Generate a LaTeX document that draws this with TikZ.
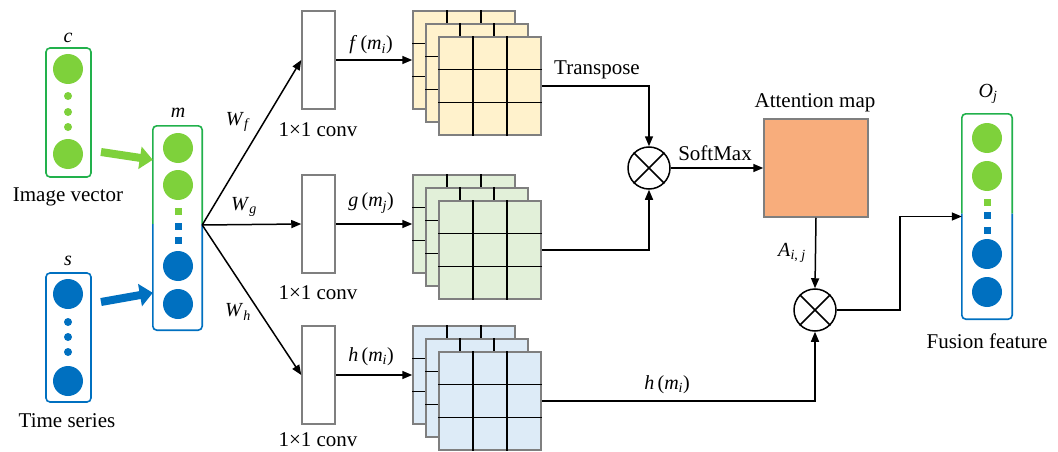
\documentclass[tikz,border=0pt]{standalone}
\usepackage{fontspec}
\setmainfont{Liberation Serif}
\usetikzlibrary{arrows.meta,positioning,calc}
\definecolor{vgreen}{HTML}{22B14C}
\definecolor{lgreen}{HTML}{7ED13B}
\definecolor{vblue}{HTML}{0070C0}
\definecolor{fmyellow}{HTML}{FFF2CC}
\definecolor{fmgreen}{HTML}{E2F0D9}
\definecolor{fmblue}{HTML}{DDEBF7}
\definecolor{attn}{HTML}{F8AD7C}
\definecolor{edge}{HTML}{7F7F7F}
\tikzset{vecbox/.style={draw,rounded corners=4pt,line width=1.6pt,minimum width=45pt,minimum height=129pt,inner sep=0pt},
big/.style={circle,inner sep=0pt,minimum size=30pt},
tiny/.style={circle,inner sep=0pt,minimum size=8pt},
sq/.style={rectangle,inner sep=0pt,minimum size=7pt},
conv/.style={draw=edge,line width=1.5pt,minimum width=33pt,minimum height=98pt,inner sep=0pt},
fmap/.style={draw=edge,line width=1.5pt,minimum width=102pt,minimum height=98pt,inner sep=0pt},
gridline/.style={line width=1.7pt},
mult/.style={circle,draw,line width=1.5pt,minimum size=42pt,inner sep=0pt},
flow/.style={-{Triangle[length=10pt,width=8pt]},line width=1.5pt},
fat/.style={-{Triangle[length=13pt,width=22pt]},line width=8pt},
lbl/.style={font=\fontsize{21}{25}\selectfont,inner sep=0pt},
var/.style={font=\fontsize{20}{24}\selectfont,inner sep=0pt}}
% three stacked 3x3 feature maps, back layer first
\newcommand\fmstack[4]{%
\foreach \k in {0,1,2}{
\node[fmap,fill=#4] (#1\k) at (#2+51+13*\k,#3+49+13*\k) {};
\foreach \t in {1,2}{
\draw[gridline] ($(#1\k.north west)!\t/3!(#1\k.north east)$) -- ($(#1\k.south west)!\t/3!(#1\k.south east)$);
\draw[gridline] ($(#1\k.north west)!\t/3!(#1\k.south west)$) -- ($(#1\k.north east)!\t/3!(#1\k.south east)$);}}}
\newcommand\itsub[2]{\textit{#1}\textsubscript{\textit{#2}}}
\begin{document}
\begin{tikzpicture}[x=1pt,y=-1pt]
\useasboundingbox (0,0) rectangle (1058,452);
% input vectors
\node[vecbox,draw=vgreen] (c) at (68.5,112.5) {};
\node[big,fill=lgreen] (c1) at (68,69) {};
\node[big,fill=lgreen] (c2) at (68,154) {};
\foreach \y in {96,112,127} \node[tiny,fill=lgreen] at (68,\y) {};
\node[var] at (68,38) {\textit{c}};
\node[lbl] at (68,197) {Image vector};
\node[vecbox,draw=vblue] (s) at (68.5,337.5) {};
\node[big,fill=vblue] (s1) at (68,294) {};
\node[big,fill=vblue] (s2) at (68,381) {};
\foreach \y in {322,337,352} \node[tiny,fill=vblue] at (68,\y) {};
\node[var] at (68,261) {\textit{s}};
\node[lbl] at (67,421) {Time series};
% concatenated vector m
\node[minimum width=49pt,minimum height=204pt,inner sep=0pt] (m) at (177.5,228) {};
\draw[line width=1.6pt,rounded corners=4pt,draw=vgreen] ([yshift=4pt]m.west) |- (m.north) -| ([yshift=4pt]m.east);
\draw[line width=1.6pt,rounded corners=4pt,draw=vblue] ([yshift=4pt]m.west) |- (m.south) -| ([yshift=4pt]m.east);
\foreach \y in {148,185} \node[big,fill=lgreen] at (178,\y) {};
\foreach \y in {266,304} \node[big,fill=vblue] at (178,\y) {};
\node[sq,fill=lgreen] at (178,211) {};
\foreach \y in {226,240} \node[sq,fill=vblue] at (178,\y) {};
\node[var] at (178,113) {\textit{m}};
\coordinate (cin) at (101,152);
\coordinate (sin) at (101,302);
\draw[fat,lgreen] (cin) -- ($(m.north west)+(0,34)$);
\draw[fat,vblue] (sin) -- ($(m.north west)+(0,167)$);
% 1x1 convolutions
\coordinate (fork) at ([yshift=3pt]m.east);
\node[conv] (conv1) at (318.5,60) {};
\node[conv] (conv2) at (318.5,224) {};
\node[conv] (conv3) at (318.5,375) {};
\foreach \i/\y in {1/130,2/293,3/440} \node[lbl] at (318,\y) {1×1 conv};
\draw[flow] (fork) -- (conv1.west);
\draw[flow] (fork) -- (conv2.west);
\draw[flow] (fork) -- (conv3.west);
\node[var] at (238,122) {\itsub{W}{f}};
\node[var] at (244,207) {\itsub{W}{g}};
\node[var] at (238,312) {\itsub{W}{h}};
% feature maps
\fmstack{f}{413}{11}{fmyellow}
\fmstack{g}{413}{175}{fmgreen}
\fmstack{h}{413}{326}{fmblue}
\draw[flow] (conv1.east) -- (f0.west);
\draw[flow] (conv2.east) -- (g0.west);
\draw[flow] (conv3.east) -- (h0.west);
\node[var] at (371,45) {\textit{f}\,(\itsub{m}{i})};
\node[var] at (371,203) {\textit{g}\,(\itsub{m}{j})};
\node[var] at (371,357) {\textit{h}\,(\itsub{m}{i})};
% attention
\node[mult] (x1) at (649,168) {};
\draw[line width=1.5pt] (x1.north west) -- (x1.south east) (x1.north east) -- (x1.south west);
\draw[flow] (f2.east) -| (x1.north);
\draw[flow] (g2.east) -| (x1.south);
\node[lbl] at (597,70) {Transpose};
\node[draw=edge,line width=1.5pt,fill=attn,minimum width=104pt,minimum height=98pt] (at) at (816,168) {};
\node[lbl] at (815,103) {Attention map};
\draw[flow] (x1.east) -- (at.west);
\node[lbl] at (715,153) {SoftMax};
\node[mult] (x2) at (815,310) {};
\draw[line width=1.5pt] (x2.north west) -- (x2.south east) (x2.north east) -- (x2.south west);
\draw[flow] (at.south) -- (x2.north);
\node[var] at (792,253) {\textit{A}\textsubscript{\textit{i}, \textit{j}}};
\draw[flow] (h2.east) -| (x2.south);
\node[var] at (667,385) {\textit{h}\,(\itsub{m}{i})};
% fused output vector
\node[minimum width=50pt,minimum height=205pt,inner sep=0pt] (o) at (987,216.5) {};
\draw[line width=1.6pt,rounded corners=4pt,draw=vgreen] ([yshift=3pt]o.west) |- (o.north) -| ([yshift=3pt]o.east);
\draw[line width=1.6pt,rounded corners=4pt,draw=vblue] ([yshift=3pt]o.west) |- (o.south) -| ([yshift=3pt]o.east);
\foreach \y in {138,176} \node[big,fill=lgreen] at (987,\y) {};
\foreach \y in {254,292} \node[big,fill=vblue] at (987,\y) {};
\node[sq,fill=lgreen] at (987,202) {};
\foreach \y in {215,230} \node[sq,fill=vblue] at (987,\y) {};
\node[var] at (988,94) {\itsub{O}{j}};
\node[lbl] at (987,341) {Fusion feature};
\draw[flow] (x2.east) -- ++(63,0) |- (o.west);
\end{tikzpicture}
\end{document}
